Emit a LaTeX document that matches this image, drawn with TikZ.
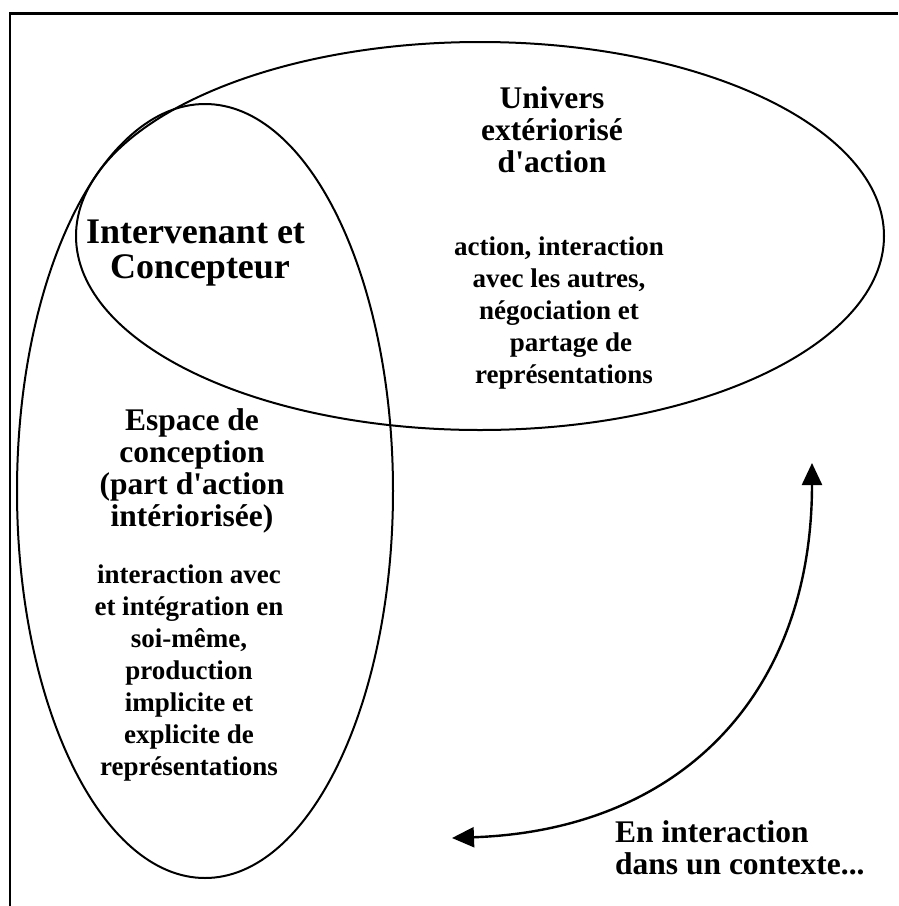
\documentclass[tikz,border=0pt]{standalone}
\usepackage{fontspec}
\setmainfont{Liberation Serif}[Ligatures=TeXOff]
\usetikzlibrary{shapes.geometric,arrows.meta}
\newcommand\mylines[2][c]{\begin{tabular}[t]{@{}#1@{}}#2\end{tabular}}
\tikzset{
  frameline/.style={line width=2.6pt},
  oval/.style={draw, ellipse, line width=2pt, inner sep=0pt},
  ttl/.style={font=\fontsize{31.5}{32}\selectfont\bfseries, inner sep=0pt, anchor=base},
  bdy/.style={font=\fontsize{27}{32}\selectfont\bfseries, inner sep=0pt, anchor=base},
  bigttl/.style={font=\fontsize{36}{35}\selectfont\bfseries, inner sep=0pt, anchor=base},
  link/.style={line width=2.4pt, {Triangle[length=22pt,width=20pt]}-{Triangle[length=22pt,width=20pt]}}
}
\begin{document}
\begin{tikzpicture}[x=1pt,y=-1pt]
\useasboundingbox (0,0) rectangle (898,906);
\fill[white] (0,0) rectangle (898,906);
% frame (left and top edges)
\draw[frameline] (10,906) -- (10,13.5) -- (898,13.5);
% ovals
\node[oval, minimum width=808pt, minimum height=388pt] (univ) at (480,236) {};
\node[oval, minimum width=376pt, minimum height=774pt] (espace) at (205,491) {};
% texts
\node[bigttl] (interv) at (195.5,243) {\mylines{Intervenant et\hspace{9pt}\\ \hspace{9pt}Concepteur}};
\node[ttl] (univttl) at (552,108) {\mylines{Univers\\ extériorisé\\ d'action}};
\node[bdy] (univbdy) at (559,255) {\mylines{action, interaction\\ avec les autres,\\ négociation et\hspace{9pt}\\ \hspace{24pt}partage de\\ \hspace{10pt}représentations}};
\node[ttl] (espttl) at (192,430) {\mylines{Espace de\\ conception\\ (part d'action\\ intériorisée)}};
\node[bdy] (espbdy) at (189,583) {\mylines{interaction avec\\ et intégration en\\ soi-même,\\ production\\ implicite et\hspace{24pt}\\ explicite de\hspace{13pt}\\ représentations}};
\node[ttl, anchor=base west] (ctx) at (615,842) {\mylines[l]{En interaction\\ dans un contexte...}};
% two-headed curved arrow
\coordinate (pleft) at (452,838);
\coordinate (ptop) at (812,463);
\draw[link] (pleft) .. controls (682,830) and (812,693) .. (ptop);
\end{tikzpicture}
\end{document}
